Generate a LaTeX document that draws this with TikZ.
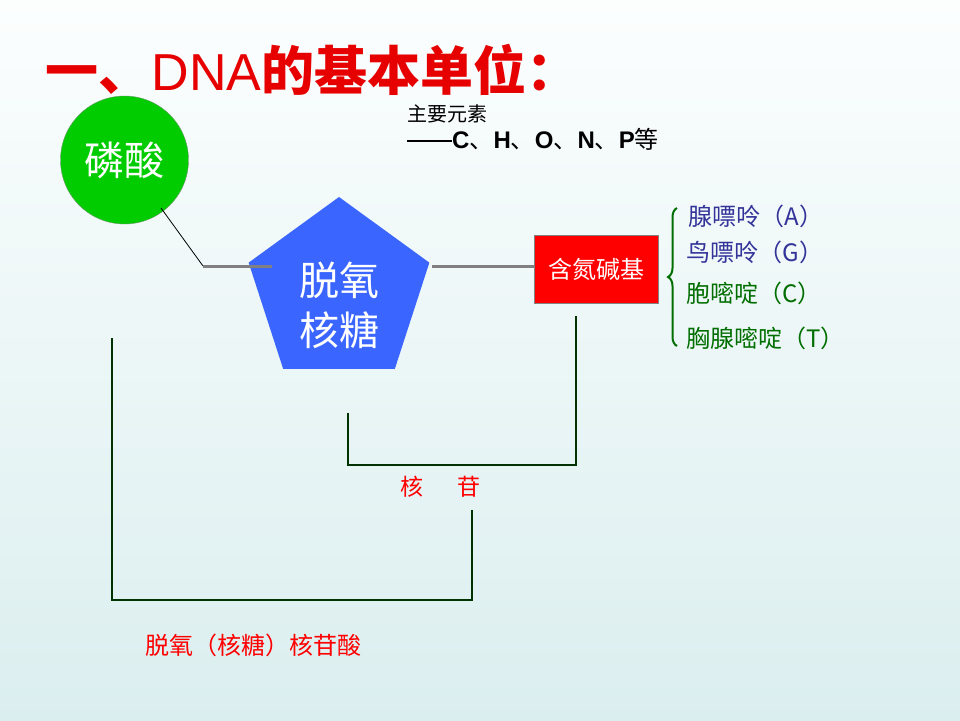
\documentclass[tikz,border=0pt]{standalone}
\usepackage{fontspec}
\setmainfont{Noto Sans CJK SC}
\newfontfamily\latinf{Liberation Sans}
\usetikzlibrary{shapes.geometric,decorations.pathreplacing}

\definecolor{titlered}{RGB}{230,0,0}
\definecolor{acidgreen}{RGB}{0,204,0}
\definecolor{sugarblue}{RGB}{58,102,255}
\definecolor{linegreen}{RGB}{0,51,0}
\definecolor{purinblue}{RGB}{51,51,153}
\definecolor{pyrimgreen}{RGB}{0,110,0}
\definecolor{bgtop}{RGB}{252,254,254}
\definecolor{bgbottom}{RGB}{219,238,239}

\begin{document}
\begin{tikzpicture}[x=1pt, y=-1pt]
    \tikzstyle{joint}=[line width=3pt,draw={rgb,255:red,128;green,128;blue,128}]
    \tikzstyle{frame}=[line width=2pt,draw=linegreen]
    \tikzstyle{base}=[anchor=west,font=\fontsize{24}{26}\selectfont]
    % background
    \shade[top color=bgtop, bottom color=bgbottom] (0,0) rectangle (960,720);
    \useasboundingbox (0,0) rectangle (960,720);
    % title
    \node[anchor=west,text=titlered,font=\fontsize{53}{56}\bfseries\selectfont] (title) at (42,70)
      {一、{\latinf\mdseries\fontsize{52}{56}\selectfont DNA}的基本单位：};
    \node[anchor=north west,align=left,inner sep=0pt,font=\fontsize{20}{27}\selectfont] (elements) at (407,104)
      {主要元素\\\rule[0.3em]{45pt}{2pt}{\fontsize{24}{27}\selectfont{\latinf\bfseries C}、{\latinf\bfseries H}、{\latinf\bfseries O}、{\latinf\bfseries N}、{\latinf\bfseries P}等}};
    % the three parts
    \node[circle,draw={rgb,255:red,110;green,150;blue,110},fill=acidgreen,minimum size=128pt,inner sep=0pt,
          text=white,font=\fontsize{40}{44}\selectfont] (acid) at (124.5,160) {磷酸};
    \node[regular polygon,regular polygon sides=5,fill=sugarblue,minimum size=190pt,inner sep=0pt] (sugar) at (339,292) {};
    \node[align=center,text=white,font=\fontsize{40}{50}\selectfont] (sugartext) at (339,305) {脱氧\\核糖};
    \node[rectangle,draw={rgb,255:red,130;green,130;blue,130},fill=red,minimum width=124pt,minimum height=68pt,
          text=white,font=\fontsize{24}{26}\selectfont] (bases) at (596.5,269.5) {含氮碱基};
    \coordinate (bend) at (203,266);
    \draw[black,line width=0.8pt] (161,208) -- (bend);
    \draw[joint] (bend) -- (272,266);
    \draw[joint] (432,266) -- (bases.west |- bend);
    % four bases
    \draw[draw=pyrimgreen,line width=2pt,decorate,decoration={brace,amplitude=9pt}] (677,346) -- (677,208);
    \node[base,text=purinblue] (adenine) at (685,216) {腺嘌呤（A）};
    \node[base,text=purinblue] (guanine) at (683,252) {鸟嘌呤（G）};
    \node[base,text=pyrimgreen] (cytosine) at (683,293) {胞嘧啶（C）};
    \node[base,text=pyrimgreen] (thymine) at (683,338) {胸腺嘧啶（T）};
    % nucleoside and nucleotide
    \draw[frame] (348,413) -- (348,465) -- (576,465) -- (576,316);
    \node[text=red,font=\fontsize{23}{24}\selectfont] (nucleoside) at (440,487) {核\hspace{34pt}苷};
    \draw[frame] (112,338) -- (112,600) -- (472,600) -- (472,510);
    \node[anchor=west,text=red,font=\fontsize{24}{24}\selectfont] (nucleotide) at (142,645) {脱氧（核糖）核苷酸};
  \end{tikzpicture}
\end{document}
